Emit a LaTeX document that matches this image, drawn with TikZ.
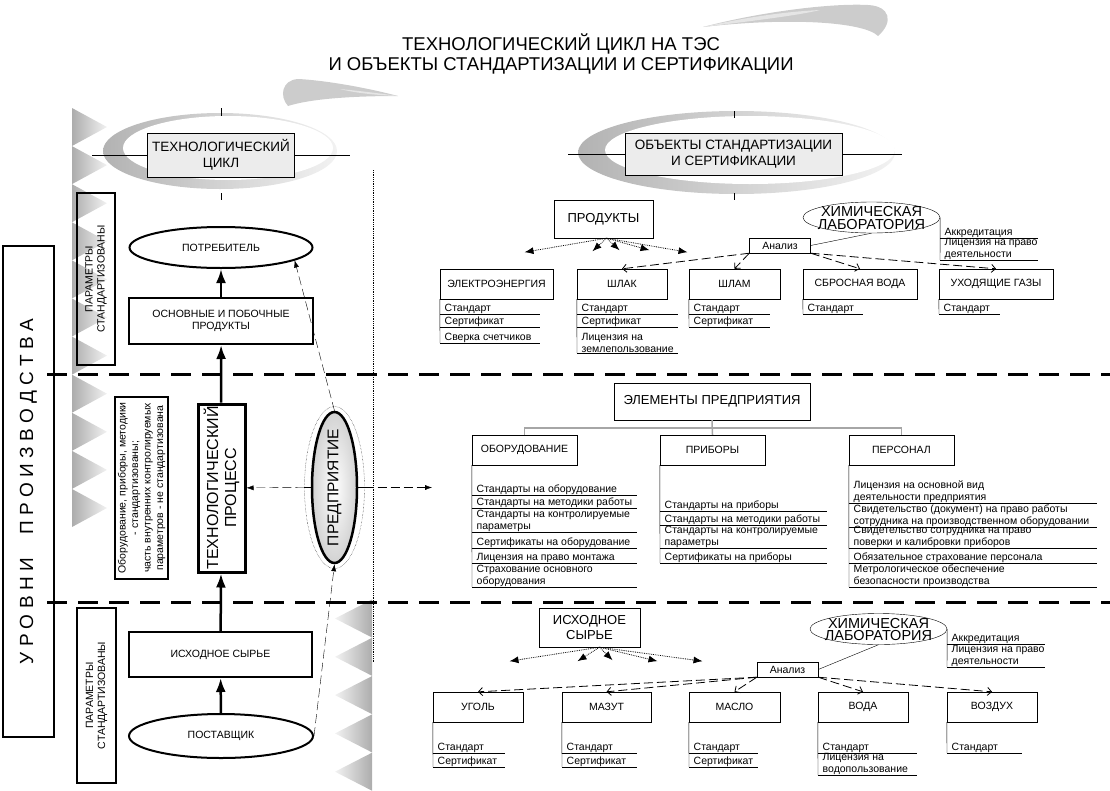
\documentclass[tikz,border=0pt]{standalone}
\usepackage{fontspec}
\setmainfont{Liberation Sans}
\usetikzlibrary{shapes.geometric,arrows.meta}
\newcommand{\stdlist}[4]{%
	\foreach \t/\y [count=\i] in {#4}{%
		\node[itm] (#1\i) at (#2,\y) {\t};
		\draw (#1\i.south west) -- ++(#3,0);}}

\begin{document}
\begin{tikzpicture}[x=1pt,y=-1pt]
	\tikzstyle{every node}=[inner sep=1pt, font=\fontsize{10.5}{12}\selectfont]
	\tikzstyle{tbox}=[draw, line width=2pt, align=center]
	\tikzstyle{oval}=[draw, ellipse, line width=2pt, align=center]
	\tikzstyle{vbox}=[draw, rotate=90, align=center]
	\tikzstyle{hdr}=[draw, fill=gray!15, align=center, font=\fontsize{13.5}{16}\selectfont]
	\tikzstyle{big}=[draw, align=center, font=\fontsize{13}{15}\selectfont]
	\tikzstyle{pbox}=[draw, minimum height=30]
	\tikzstyle{lab}=[draw, ellipse, minimum width=137, minimum height=31]
	\tikzstyle{labtext}=[align=center, font=\fontsize{14.5}{12.5}\selectfont]
	\tikzstyle{anbox}=[draw, minimum width=61, minimum height=15, inner sep=0pt]
	\tikzstyle{itm}=[anchor=south west, align=left, inner xsep=4.5pt, inner ysep=0.5pt]
	\tikzstyle{mainarr}=[line width=2.5pt, -{Latex[length=14pt,width=10pt]}]
	\tikzstyle{thinarr}=[dash pattern=on 9pt off 4pt, -{Latex[length=7pt,width=5pt]}]
	\tikzstyle{dotarr}=[densely dotted, line width=0.8pt, -{Latex[length=9pt,width=7pt]}]
	\tikzstyle{anarr}=[dash pattern=on 9pt off 4pt, line width=0.8pt, -{Straight Barb[length=4pt,width=8pt]}]
	\tikzstyle{lvlline}=[line width=3pt, dash pattern=on 20pt off 11pt]
	\useasboundingbox (0,0) rectangle (1110,790);

	% title
	\fill[gray!40] (703,27) .. controls (760,12) and (830,3) .. (868,5) .. controls (890,6) and (894,22) .. (878,36) .. controls (864,22) and (790,17) .. (703,27);
	\fill[gray!20] (703,27) .. controls (760,14) and (800,11) .. (820,10) .. controls (800,15) and (760,20) .. (703,27);
	\fill[gray!40] (398,96) .. controls (360,86) and (320,80) .. (298,79) .. controls (282,80) and (279,96) .. (288,106) .. controls (310,99) and (350,96) .. (398,96);
	\fill[gray!20] (398,96) .. controls (370,92) and (350,90) .. (340,89) .. controls (355,93) and (375,95) .. (398,96);
	\node[align=center, font=\fontsize{18.5}{20}\selectfont] (title) at (561,54) {ТЕХНОЛОГИЧЕСКИЙ ЦИКЛ НА ТЭС\\И ОБЪЕКТЫ СТАНДАРТИЗАЦИИ И СЕРТИФИКАЦИИ};

	% headers
	\shade[left color=gray!60, right color=gray!10] (220,151) ellipse [x radius=117, y radius=38];
	\fill[white] (228,148) ellipse [x radius=105, y radius=32];
	\draw (92,155) -- (350,155) (221,108) -- (221,116) (221,193) -- (221,200);
	\node[hdr, minimum width=147, minimum height=44] (cyc) at (221,155) {ТЕХНОЛОГИЧЕСКИЙ\\ЦИКЛ};
	\shade[left color=gray!60, right color=gray!10] (736.5,152.5) ellipse [x radius=158.5, y radius=41.5];
	\fill[white] (750,150) ellipse [x radius=145, y radius=34];
	\draw (568,154) -- (902,154) (734,111) -- (734,118) (734,193) -- (734,200);
	\node[hdr, minimum width=217, minimum height=42] (objs) at (733.5,154) {ОБЪЕКТЫ СТАНДАРТИЗАЦИИ\\И СЕРТИФИКАЦИИ};

	% saw teeth
	\foreach \i in {0,...,10}
		\shade[left color=gray!65, right color=gray!10] (72,108+38.1*\i) -- (107,127+38.1*\i) -- (72,146+38.1*\i) -- cycle;
	\foreach \i in {0,...,4}
		\shade[left color=gray!10, right color=gray!65] (372,599.5+38.3*\i) -- (335,618.5+38.3*\i) -- (372,637.5+38.3*\i) -- cycle;

	\draw[lvlline] (47,374) -- (1110,374);
	\draw[lvlline] (47,602) -- (1110,602);
	\draw[densely dotted, line width=0.8pt] (373,170) -- (373,662);

	% left side
	\node[draw, line width=1.5pt, rotate=90, minimum width=491, minimum height=51, font=\fontsize{19}{21}\selectfont] (lvl) at (28.5,491.5) {У Р О В Н И \quad П Р О И З В О Д С Т В А};
	\node[vbox, line width=2.5pt, minimum width=172, minimum height=38] (par1) at (96,279) {ПАРАМЕТРЫ\\СТАНДАРТИЗОВАНЫ};
	\node[vbox, line width=2pt, minimum width=182, minimum height=53, font=\fontsize{10.5}{12.5}\selectfont] (note) at (141.5,488) {Оборудование, приборы, методики\\- стандартизованы;\\часть внутренних контролируемых\\параметров - не стандартизована};
	\node[vbox, line width=2.5pt, minimum width=175, minimum height=39] (par2) at (96.5,695.5) {ПАРАМЕТРЫ\\СТАНДАРТИЗОВАНЫ};

	\node[oval, minimum width=183, minimum height=41] (cons) at (221,247.5) {ПОТРЕБИТЕЛЬ};
	\node[tbox, minimum width=184, minimum height=46] (prod1) at (221,321) {ОСНОВНЫЕ И ПОБОЧНЫЕ\\ПРОДУКТЫ};
	\node[tbox, line width=3pt, rotate=90, minimum width=168, minimum height=47, font=\fontsize{16}{18}\selectfont] (tp) at (221.5,488) {ТЕХНОЛОГИЧЕСКИЙ\\ПРОЦЕСС};
	\node[tbox, minimum width=183, minimum height=45] (raw1) at (220.5,654.5) {ИСХОДНОЕ СЫРЬЕ};
	\node[oval, minimum width=184, minimum height=44] (supp) at (221,736) {ПОСТАВЩИК};
	\draw[mainarr] (supp) -- (raw1);
	\draw[mainarr] (raw1) -- (tp);
	\draw[mainarr] (tp) -- (prod1);
	\draw[mainarr] (prod1) -- (cons);

	\node[draw, ellipse, densely dotted, minimum width=60, minimum height=162] (entout) at (334.5,487.5) {};
	\node[draw, ellipse, line width=2.5pt, inner color=white, outer color=gray!35, minimum width=45, minimum height=151] (ent) at (334.5,487.5) {};
	\node[rotate=90, font=\fontsize{15.5}{17}\selectfont] (entname) at (ent) {ПРЕДПРИЯТИЕ};
	\draw[thinarr] (supp.east) -- (ent.south);
	\draw[thinarr] (ent.north) -- (cons.-10);
	\draw (ent.west) -- (entout.west) (ent.east) -- (entout.east);
	\draw[thinarr] (entout.west) -- (tp);
	\coordinate (entarr) at (432,487.5);
	\draw[thinarr] (entout.east) -- (entarr);

	% products
	\node[big, minimum width=99, minimum height=38] (prods) at (603.5,219) {ПРОДУКТЫ};
	\coordinate (src1) at ([xshift=3]prods.south);
	\foreach \dx/\dy [count=\i] in {-82/14,-14/13,13/12,43/12,81/14}{
		\coordinate (pt\i) at ([shift={(\dx,\dy)}]src1);
		\draw[dotarr] (src1) -- (pt\i);}
	\node[pbox, minimum width=113] (elec) at (496.5,284) {ЭЛЕКТРОЭНЕРГИЯ};
	\node[pbox, minimum width=90] (slag) at (622,284) {ШЛАК};
	\node[pbox, minimum width=91] (sludge) at (734.5,284) {ШЛАМ};
	\node[pbox, minimum width=114] (waste) at (860,284) {СБРОСНАЯ ВОДА};
	\node[pbox, minimum width=114] (gas) at (996,284) {УХОДЯЩИЕ ГАЗЫ};
	\stdlist{elec}{440}{100}{Стандарт/314,Сертификат/327,Сверка счетчиков/343}
	\draw (elec.south west) -- (elec3.south west);
	\stdlist{slag}{577}{101}{Стандарт/314,Сертификат/327,{Лицензия на\\землепользование}/353}
	\draw (slag.south west) -- (slag3.south west);
	\stdlist{sludge}{689}{81}{Стандарт/314,Сертификат/327}
	\draw (sludge.south west) -- (sludge2.south west);
	\stdlist{waste}{803}{60}{Стандарт/314}
	\draw (waste.south west) -- (waste1.south west);
	\stdlist{gas}{939}{61}{Стандарт/314}
	\draw (gas.south west) -- (gas1.south west);

	\node[lab] (lab1) at (871.5,217.5) {};
	\node[labtext] (lab1t) at (871.5,218) {ХИМИЧЕСКАЯ\\ЛАБОРАТОРИЯ};
	\node[anbox] (an1) at (780,245.5) {Анализ};
	\draw (an1.east) -- (lab1.south);
	\stdlist{acc}{940}{98}{Аккредитация/238,{Лицензия на право\\деятельности}/260}
	\draw (lab1.east) -- (acc2.south west);
	\draw[anarr] (an1.south west) -- (slag.north);
	\draw[anarr] (an1.south west) -- (sludge.north);
	\draw[anarr] (an1.south east) -- (waste.north);
	\draw[anarr] (an1.south east) -- (gas.north);

	% enterprise elements
	\node[big, minimum width=196, minimum height=37] (elem) at (712,401.5) {ЭЛЕМЕНТЫ ПРЕДПРИЯТИЯ};
	\node[pbox, minimum width=105] (equip) at (524.5,450) {ОБОРУДОВАНИЕ};
	\node[pbox, minimum width=105] (instr) at (712.5,450) {ПРИБОРЫ};
	\node[pbox, minimum width=105] (staff) at (901.5,450) {ПЕРСОНАЛ};
	\draw[gray!70, line width=1.5pt] (equip.north) -- ++(0,-7) -| (staff.north);
	\draw[gray!70, line width=1.5pt] (elem.south) -- (instr.north);
	\stdlist{equip}{472}{165}{Стандарты на оборудование/495,Стандарты на методики работы/508,{Стандарты на контролируемые\\параметры}/532,Сертификаты на оборудование/548,Лицензия на право монтажа/563,{Страхование основного\\оборудования}/587}
	\draw (equip.south west) -- (equip6.south west);
	\stdlist{instr}{660}{167}{Стандарты на приборы/511,Стандарты на методики работы/525,{Стандарты на контролируемые\\параметры}/548,Сертификаты на приборы/563}
	\draw (instr.south west) -- (instr4.south west);
	\stdlist{staff}{849}{248}{{Лицензия на основной вид\\деятельности предприятия}/503,{Свидетельство (документ) на право работы\\сотрудника на производственном оборудовании}/527,{Свидетельство сотрудника на право\\поверки и калибровки приборов}/548,Обязательное страхование персонала/563,{Метрологическое обеспечение\\безопасности производства}/587}
	\draw (staff.south west) -- (staff5.south west);

	% raw materials
	\node[big, minimum width=101, minimum height=39] (raw2) at (589.5,627.5) {ИСХОДНОЕ\\СЫРЬЕ};
	\coordinate (src2) at ([xshift=10]raw2.south);
	\foreach \dx/\dy [count=\i] in {-90/14,-22/14,13/13,58/14,103/14}{
		\coordinate (pb\i) at ([shift={(\dx,\dy)}]src2);
		\draw[dotarr] (src2) -- (pb\i);}
	\node[pbox, minimum width=90] (coal) at (478,707) {УГОЛЬ};
	\node[pbox, minimum width=89] (mazut) at (606.5,707) {МАЗУТ};
	\node[pbox, minimum width=91] (oil) at (734.5,707) {МАСЛО};
	\node[pbox, minimum width=90] (water) at (863,707) {ВОДА};
	\node[pbox, minimum width=90] (air) at (992,707) {ВОЗДУХ};
	\stdlist{coal}{433}{72}{Стандарт/753,Сертификат/767}
	\draw (coal.south west) -- (coal2.south west);
	\stdlist{mazut}{562}{75}{Стандарт/753,Сертификат/767}
	\draw (mazut.south west) -- (mazut2.south west);
	\stdlist{oil}{689}{69}{Стандарт/753,Сертификат/767}
	\draw (oil.south west) -- (oil2.south west);
	\stdlist{water}{818}{99}{Стандарт/753,{Лицензия на\\водопользование}/775}
	\draw (water.south west) -- (water2.south west);
	\stdlist{air}{947}{75}{Стандарт/753}
	\draw (air.south west) -- (air1.south west);

	\node[lab] (lab2) at (878.5,629) {};
	\node[labtext] (lab2t) at (878.5,629.5) {ХИМИЧЕСКАЯ\\ЛАБОРАТОРИЯ};
	\node[anbox] (an2) at (787.5,669.5) {Анализ};
	\draw (an2.east) -- (lab2.south);
	\stdlist{accb}{947}{98}{Аккредитация/644,{Лицензия на право\\деятельности}/667}
	\draw (lab2.east) -- (accb2.south west);
	\draw[anarr] (an2.south west) -- (coal.north);
	\draw[anarr] (an2.south west) -- (mazut.north);
	\draw[anarr] (an2.south west) -- (oil.north);
	\draw[anarr] (an2.south east) -- (water.north);
	\draw[anarr] (an2.south east) -- (air.north);
\end{tikzpicture}
\end{document}
